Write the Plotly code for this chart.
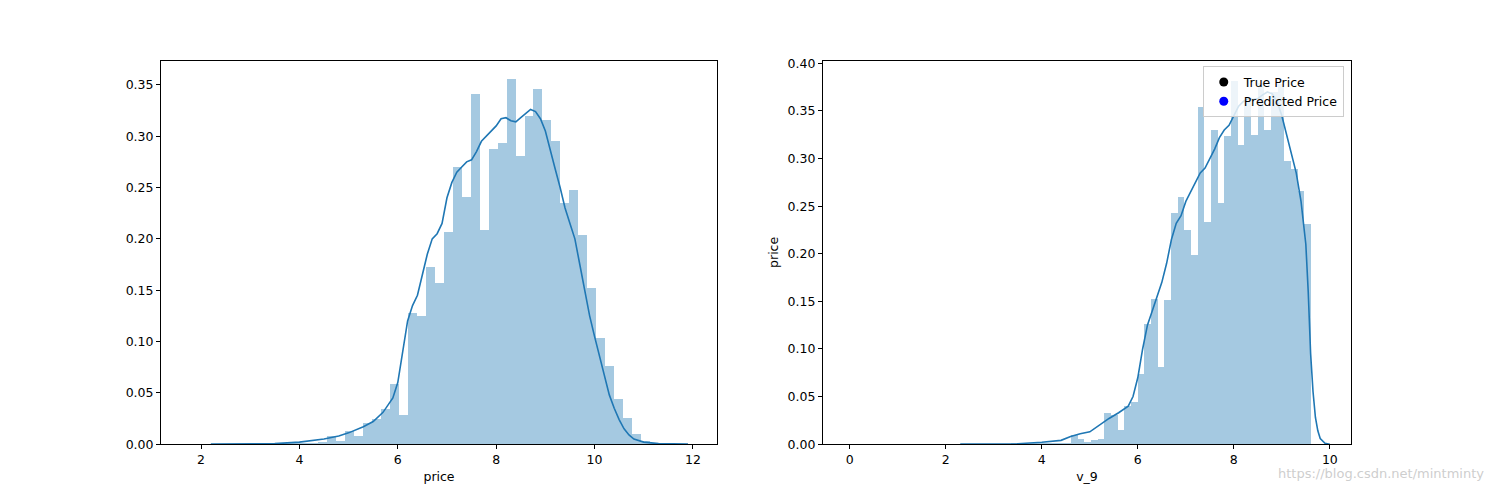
import plotly.graph_objects as go

# Left histogram (price)
L_edge0, L_w = 2.378, 0.1823
L_hist = [0.0005,0.0005,0.0005,0.0005,0.001,0.001,0.001,0.001,0.002,0.002,0.002,0.003,
          0.008,0.004,0.0137,0.008,0.0215,0.025,0.035,0.059,0.029,0.128,0.125,0.173,0.157,
          0.207,0.270,0.241,0.342,0.209,0.288,0.294,0.356,0.281,0.320,0.346,0.316,0.296,
          0.235,0.248,0.204,0.153,0.104,0.077,0.044,0.026,0.010,0.004,0.001,0.0005]
L_kde_x = [2.2,3.5,4.0,4.5,4.8,5.0,5.3,5.5,5.7,5.9,6.0,6.1,6.2,6.3,6.4,6.5,6.6,6.7,6.8,6.9,
           7.0,7.1,7.2,7.3,7.4,7.5,7.6,7.7,7.8,7.9,8.0,8.1,8.2,8.3,8.4,8.5,8.6,8.7,8.8,8.9,
           9.0,9.1,9.2,9.3,9.4,9.5,9.6,9.7,9.8,9.9,10.0,10.1,10.2,10.3,10.4,10.5,10.6,10.7,
           10.8,11.0,11.3,11.9]
L_kde_y = [0,0.0005,0.002,0.005,0.008,0.011,0.017,0.022,0.031,0.045,0.06,0.09,0.12,0.135,
           0.145,0.165,0.185,0.2,0.205,0.215,0.24,0.255,0.265,0.27,0.275,0.277,0.285,0.295,
           0.3,0.305,0.31,0.317,0.318,0.315,0.314,0.318,0.322,0.326,0.324,0.317,0.305,0.285,
           0.268,0.25,0.23,0.215,0.2,0.175,0.15,0.125,0.105,0.085,0.065,0.048,0.035,0.024,
           0.015,0.009,0.005,0.002,0.0005,0]

# Right histogram (v_9)
R_edge0, R_w = 2.66, 0.1389
R_hist = [0.0005,0.0005,0.0005,0.0005,0.0005,0.001,0.001,0.001,0.001,0.001,0.001,0.002,0.002,
          0.002,0.010,0.006,0.003,0.005,0.006,
          0.033,0.031,0.015,0.041,0.045,0.074,0.127,0.153,0.082,0.152,0.243,0.260,0.225,
          0.199,0.355,0.234,0.330,0.254,0.324,0.382,0.315,0.360,0.325,0.380,0.331,0.370,
          0.379,0.298,0.290,0.266,0.232]
R_kde_x = [2.3,3.5,4.0,4.4,4.6,4.8,5.0,5.2,5.4,5.6,5.8,5.9,6.0,6.1,6.2,6.3,6.4,6.5,6.6,6.7,
           6.8,6.9,7.0,7.1,7.2,7.3,7.4,7.5,7.6,7.7,7.8,7.9,8.0,8.1,8.2,8.3,8.4,8.5,8.6,8.7,
           8.8,8.9,9.0,9.1,9.2,9.3,9.4,9.5,9.55,9.6,9.65,9.7,9.75,9.8,9.9,10.0]
R_kde_y = [0,0.0005,0.002,0.004,0.008,0.011,0.013,0.02,0.027,0.033,0.04,0.05,0.07,0.1,0.125,
           0.14,0.155,0.17,0.19,0.215,0.232,0.24,0.255,0.265,0.275,0.285,0.29,0.3,0.31,0.322,
           0.33,0.335,0.345,0.355,0.36,0.363,0.362,0.363,0.367,0.37,0.368,0.36,0.345,0.325,
           0.305,0.285,0.255,0.21,0.16,0.095,0.055,0.028,0.014,0.006,0.001,0]

BAR = "rgb(165,201,225)"
LINE = "#1f77b4"
FONT = "DejaVu Sans"
FS = 12.5

fig = go.Figure()
def add(edge0, w, h, kx, ky, xa, ya):
    fig.add_trace(go.Bar(x=[edge0 + w*(i+0.5) for i in range(len(h))], y=h, width=w,
                         marker=dict(color=BAR, line=dict(width=0)), xaxis=xa, yaxis=ya,
                         showlegend=False))
    fig.add_trace(go.Scatter(x=kx, y=ky, mode="lines", line=dict(color=LINE, width=1.6),
                             xaxis=xa, yaxis=ya, showlegend=False))
add(L_edge0, L_w, L_hist, L_kde_x, L_kde_y, "x", "y")
add(R_edge0, R_w, R_hist, R_kde_x, R_kde_y, "x2", "y2")
fig.add_trace(go.Scatter(x=[None], y=[None], mode="markers", name="True Price",
                         marker=dict(color="black", size=9), xaxis="x2", yaxis="y2"))
fig.add_trace(go.Scatter(x=[None], y=[None], mode="markers", name="Predicted Price",
                         marker=dict(color="blue", size=9), xaxis="x2", yaxis="y2"))

ax = dict(showline=True, mirror=True, linecolor="black", linewidth=1, ticks="outside",
          ticklen=4, tickcolor="black", showgrid=False, zeroline=False,
          tickfont=dict(size=FS, color="black"))
fig.update_layout(
    width=1500, height=497, margin=dict(l=0, r=0, t=0, b=0),
    plot_bgcolor="white", paper_bgcolor="white", bargap=0,
    font=dict(family=FONT, size=FS, color="black"),
    xaxis=dict(domain=[0.1020, 0.4727], range=[1.187, 12.49], dtick=2, anchor="y",
               title=dict(text="price", standoff=6, font=dict(size=FS)), **ax),
    yaxis=dict(domain=[0.111, 0.902], range=[0, 0.3737], dtick=0.05, tickformat=".2f",
               anchor="x", **ax),
    xaxis2=dict(domain=[0.5433, 0.8953], range=[-0.56, 10.44], dtick=2, anchor="y2",
                title=dict(text="v_9", standoff=6, font=dict(size=FS)), **ax),
    yaxis2=dict(domain=[0.111, 0.902], range=[0, 0.403], dtick=0.05, tickformat=".2f",
                anchor="x2", title=dict(text="price", standoff=6, font=dict(size=FS)), **ax),
    legend=dict(x=0.8905, y=0.89, xanchor="right", yanchor="top", bgcolor="rgba(255,255,255,0.8)",
                bordercolor="#cccccc", borderwidth=1, font=dict(size=FS)),
    annotations=[dict(text="https://blog.csdn.net/mintminty", xref="paper", yref="paper",
                      x=0.985, y=0.03, xanchor="right", yanchor="bottom", showarrow=False,
                      font=dict(size=13, color="rgba(200,200,200,0.9)"))],
)
fig.write_html("out.html")
